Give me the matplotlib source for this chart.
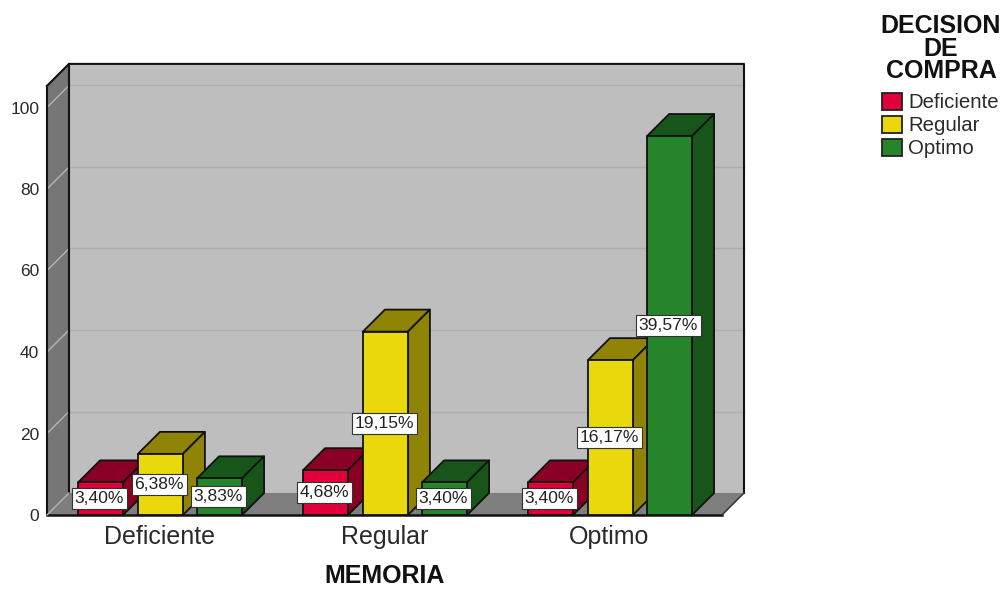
import matplotlib
matplotlib.use('Agg')
import matplotlib.pyplot as plt
from matplotlib.patches import Polygon, Rectangle

plt.rcParams['font.family'] = ['Liberation Sans', 'DejaVu Sans']

# datos
categorias = ['Deficiente', 'Regular', 'Optimo']
series = ['Deficiente', 'Regular', 'Optimo']
recuento_deficiente = [8, 11, 8]
recuento_regular = [15, 45, 38]
recuento_optimo = [9, 8, 93]
etiq_deficiente = ['3,40%', '4,68%', '3,40%']
etiq_regular = ['6,38%', '19,15%', '16,17%']
etiq_optimo = ['3,83%', '3,40%', '39,57%']
yticks = [0, 20, 40, 60, 80, 100]

colores = ['#E2003A', '#E8D80C', '#26842A']
oscuros = ['#8A0024', '#8F8406', '#18551A']

W, H = 1005, 589
fig = plt.figure(figsize=(W / 100, H / 100), dpi=100)

# el eje coincide con el plano frontal del grafico
ax = fig.add_axes([47 / W, (H - 515) / H, 675 / W, 407.5 / H])
ax.set_xlim(-0.5, 2.5)
ax.set_ylim(0, 100)
for s in ax.spines.values():
    s.set_visible(False)
ax.patch.set_visible(False)

dx = 22 / 225     # profundidad en unidades de x
dy = 22 / 4.075   # profundidad en unidades de y
x0, x1 = -0.5, 2.5
tope = 110.7


def poli(puntos, color, z=1, lw=1.3, ec='#111111'):
    ax.add_patch(Polygon(puntos, closed=True, facecolor=color, edgecolor=ec,
                         linewidth=lw, zorder=z, clip_on=False,
                         joinstyle='round'))


def linea(xs, ys, color='#111111', lw=1.5, z=2):
    ax.plot(xs, ys, color=color, lw=lw, zorder=z, clip_on=False)


# paredes y suelo
poli([(x0, 0), (x0 + dx, dy), (x0 + dx, tope), (x0, tope - dy)], '#767676', ec='none', lw=0)
poli([(x0 + dx, dy), (x1 + dx, dy), (x1 + dx, tope), (x0 + dx, tope)], '#BEBEBE', ec='none', lw=0)
poli([(x0, 0), (x1, 0), (x1 + dx, dy), (x0 + dx, dy)], '#7E7E7E', ec='none', lw=0)

# rejilla
for v in yticks[1:]:
    linea([x0, x0 + dx], [v, v + dy], color='#B4B4B4', lw=1.0)
    linea([x0 + dx, x1 + dx], [v + dy, v + dy], color='#ADADAD', lw=1.0)

# bordes del recinto
linea([x0, x0], [0, tope - dy])
linea([x0, x0 + dx, x1 + dx, x1 + dx], [tope - dy, tope, tope, dy])
linea([x0 + dx, x0 + dx], [dy, tope])
linea([x0, x1], [0, 0], lw=1.8)
linea([x1, x1 + dx], [0, dy], color='#333333', lw=1.1)
linea([x0, x0 + dx], [0, dy], color='#B4B4B4', lw=1.0)

desplaz = [-0.262, 0.004, 0.267]
ancho = 0.2
valores = [recuento_deficiente, recuento_regular, recuento_optimo]
etiquetas = [etiq_deficiente, etiq_regular, etiq_optimo]

# barras de izquierda a derecha para que se tapen bien
z = 3
for i in range(len(categorias)):
    for j in range(len(series)):
        v = valores[j][i]
        a = i + desplaz[j] - ancho / 2
        b = a + ancho
        poli([(a, v), (b, v), (b + dx, v + dy), (a + dx, v + dy)], oscuros[j], z)
        poli([(b, 0), (b + dx, dy), (b + dx, v + dy), (b, v)], oscuros[j], z)
        poli([(a, 0), (b, 0), (b, v), (a, v)], colores[j], z)
        z += 1
        ax.text(i + desplaz[j] - 0.005, v / 2, etiquetas[j][i], fontsize=12.6,
                ha='center', va='center', color='#222222', zorder=30,
                bbox=dict(boxstyle='square,pad=0.16', facecolor='white',
                          edgecolor='#333333', linewidth=0.8))

ax.set_xticks(range(len(categorias)))
ax.set_xticklabels(categorias, fontsize=18, color='#2A2A2A')
ax.set_yticks(yticks)
ax.set_yticklabels([str(v) for v in yticks], fontsize=12.5, color='#2A2A2A')
ax.tick_params(axis='x', length=0, pad=7)
ax.tick_params(axis='y', length=0, pad=5.5)
ax.set_xlabel('MEMORIA', fontsize=18, fontweight='bold', color='#111111', labelpad=11)

# leyenda
fig.text(941 / W, 1 - 48.5 / H, 'DECISION\nDE\nCOMPRA', fontsize=18, fontweight='bold',
         ha='center', va='center', linespacing=0.92, color='#111111')
for j, nombre in enumerate(series):
    y = 93 + 23 * j
    fig.add_artist(Rectangle((882 / W, 1 - (y + 17) / H), 20 / W, 17 / H,
                             transform=fig.transFigure, facecolor=colores[j],
                             edgecolor='#222222', linewidth=1.3))
    fig.text(908 / W, 1 - (y + 9.5) / H, nombre, fontsize=14.7, ha='left',
             va='center', color='#2A2A2A')

fig.savefig('out.png', dpi=100)
